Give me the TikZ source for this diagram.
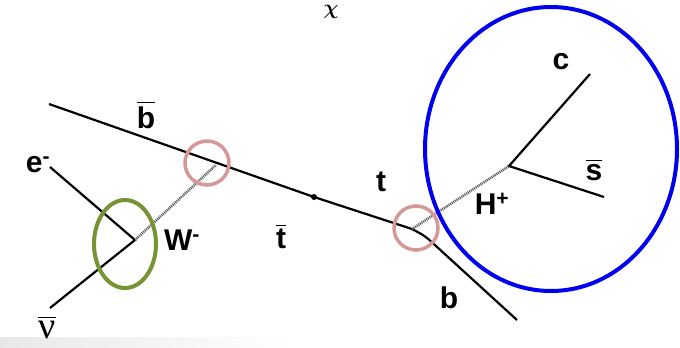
\documentclass[tikz,border=0pt]{standalone}
\usepackage{amsmath}
\usepackage{fontspec}
\setmainfont{Liberation Sans}
\newfontfamily\nufont{Liberation Serif}
\usepackage{tikz}

\definecolor{pinkring}{RGB}{214,152,150}
\definecolor{olivering}{RGB}{118,148,52}
\definecolor{bluering}{RGB}{0,0,238}

\newcommand{\antip}[1]{$\overline{\mbox{#1}}$}

\tikzset{
  fermion/.style={line width=2.2pt},
  boson/.style={line width=2.6pt, black!65, dash pattern=on 1pt off 0.9pt},
  lbl/.style={font=\fontsize{30}{32}\selectfont\bfseries, inner sep=0pt},
}

\begin{document}
\begin{tikzpicture}[x=1pt,y=-1pt]
  \useasboundingbox (0,0) rectangle (680,348);
  \shade[left color=black!9, right color=white] (0,337) rectangle (290,348);

  % vertices and line ends
  \coordinate (bbarin) at (49,104);
  \coordinate (tdot) at (314,197);
  \coordinate (tv) at (412,229);
  \coordinate (bout) at (517,320);
  \coordinate (wv) at (135,240);
  \coordinate (wend) at (216,165);
  \coordinate (ein) at (50,167);
  \coordinate (nuout) at (50,308);
  \coordinate (hv) at (509,166);
  \coordinate (cout) at (590,74);
  \coordinate (sout) at (604,197);

  % quark and lepton lines
  \draw[fermion] (bbarin) -- (tdot) -- (tv);
  \draw[fermion, rounded corners=6pt] (tv) -- (425,236) -- (bout);
  \draw[fermion] (ein) -- (wv) -- (nuout);
  \draw[fermion] (cout) -- (hv) -- (sout);
  \fill (tdot) circle (3pt);

  % bosons
  \draw[boson] (wv) -- (wend);
  \draw[boson] (tv) -- (hv);

  % rings
  \draw[pinkring, line width=3.5pt] (207,163) circle (22);
  \draw[pinkring, line width=3.5pt] (416,228) circle (22);
  \draw[olivering, line width=4pt] (125,244) ellipse (31 and 44);
  \draw[bluering, line width=4pt] (551,149) ellipse (126 and 142);

  % labels
  \node[lbl, anchor=north, font=\fontsize{22}{24}\selectfont] (chi) at (331,5) {$\boldsymbol{\chi}$};
  \node[lbl] (lbbar) at (146,115) {\antip{b}};
  \node[lbl] (le) at (38,165) {e\textsuperscript{-}};
  \node[lbl] (lw) at (182,240) {W\textsuperscript{-}};
  \node[lbl] (ltbar) at (281,236) {\antip{t}};
  \node[lbl] (lt) at (381,182) {t};
  \node[lbl] (lh) at (492,204) {H\textsuperscript{+}};
  \node[lbl] (lc) at (561,62) {c};
  \node[lbl] (lsbar) at (594,170) {\antip{s}};
  \node[lbl] (lb) at (449,298) {b};
  \node[lbl, font=\fontsize{38}{40}\selectfont\nufont] (lnu) at (47,327) {\antip{ν}};
\end{tikzpicture}
\end{document}
